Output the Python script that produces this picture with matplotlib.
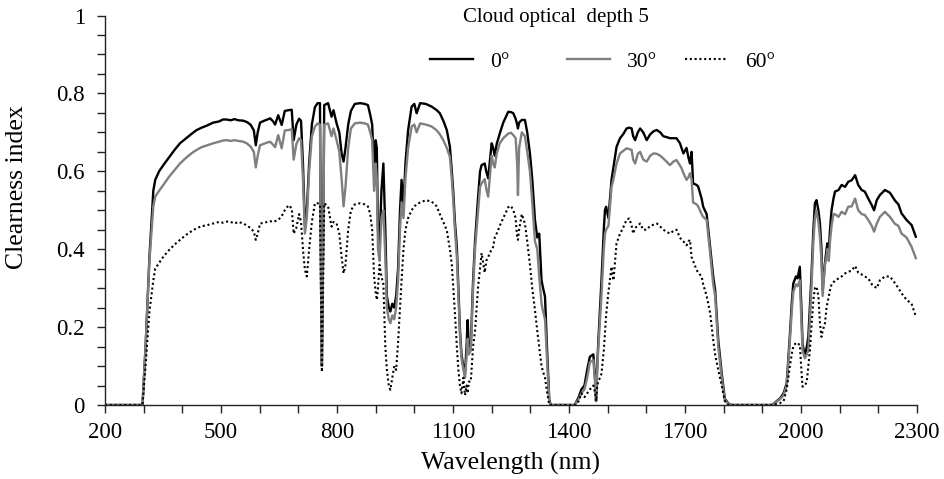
import matplotlib
matplotlib.use("Agg")
import matplotlib.pyplot as plt
from matplotlib.legend import Legend
from matplotlib.ticker import FixedLocator, MultipleLocator
import numpy as np

plt.rcParams["font.family"] = ["Liberation Serif", "DejaVu Serif"]

# Wavelength grid (nm) shared by the three solar zenith angles
wavelength = [
    200, 290, 297, 305, 315, 325, 330, 340, 351, 365, 380, 394, 410, 425, 437, 450,
    465, 480, 495, 505, 515, 525, 535, 545, 558, 568, 577, 585, 590, 595, 601, 612,
    620, 627, 635, 640, 648, 657, 665, 675, 683, 688, 695, 702, 707, 712, 717, 722,
    728, 735, 743, 750, 756, 759, 761, 764, 767, 777, 786, 791, 799, 806, 812, 817,
    822, 829, 836, 846, 860, 872, 880, 886, 891, 896, 900, 903, 906, 910, 915, 920,
    925, 929, 934, 938, 943, 948, 953, 958, 963, 967, 972, 977, 984, 993, 1000, 1006,
    1015, 1030, 1045, 1058, 1066, 1075, 1084, 1092, 1097, 1101, 1105, 1110, 1114, 1118, 1122, 1127,
    1131, 1135, 1138, 1141, 1146, 1152, 1157, 1165, 1170, 1174, 1182, 1186, 1191, 1200, 1204, 1208,
    1213, 1221, 1230, 1243, 1250, 1256, 1262, 1266, 1268, 1271, 1278, 1286, 1292, 1299, 1305, 1312,
    1318, 1323, 1329, 1333, 1338, 1343, 1349, 1353, 1415, 1425, 1432, 1440, 1447, 1454, 1463, 1468,
    1470, 1473, 1476, 1484, 1490, 1493, 1496, 1502, 1510, 1515, 1523, 1532, 1540, 1549, 1556, 1562,
    1566, 1571, 1578, 1584, 1592, 1601, 1610, 1619, 1627, 1636, 1644, 1652, 1661, 1670, 1678, 1687,
    1691, 1696, 1704, 1709, 1713, 1717, 1721, 1730, 1734, 1743, 1747, 1756, 1765, 1773, 1778, 1786,
    1795, 1803, 1812, 1820, 1925, 1946, 1955, 1963, 1971, 1976, 1980, 1987, 1991, 1997, 2001, 2004,
    2010, 2015, 2019, 2023, 2027, 2032, 2036, 2040, 2045, 2049, 2053, 2056, 2062, 2066, 2068, 2072,
    2075, 2079, 2084, 2088, 2097, 2105, 2114, 2122, 2131, 2140, 2148, 2157, 2165, 2174, 2183, 2189,
    2196, 2204, 2217, 2230, 2243, 2252, 2260, 2273, 2286, 2297,
]

# Clearness index, solar zenith angle 0 degrees
kt_0 = [
    0, 0, 0, 0.15, 0.38, 0.55, 0.578, 0.60, 0.616, 0.635, 0.655, 0.672, 0.685, 0.697, 0.706, 0.712,
    0.718, 0.725, 0.728, 0.733, 0.733, 0.731, 0.734, 0.731, 0.730, 0.726, 0.719, 0.705, 0.667, 0.700, 0.725, 0.730,
    0.733, 0.736, 0.728, 0.720, 0.744, 0.719, 0.755, 0.757, 0.758, 0.68, 0.72, 0.735, 0.730, 0.62, 0.46, 0.50,
    0.62, 0.72, 0.765, 0.775, 0.775, 0.30, 0.10, 0.40, 0.77, 0.775, 0.74, 0.757, 0.723, 0.70, 0.646, 0.625,
    0.66, 0.72, 0.755, 0.773, 0.775, 0.773, 0.770, 0.745, 0.72, 0.60, 0.68, 0.66, 0.45, 0.41, 0.55, 0.62,
    0.45, 0.28, 0.25, 0.24, 0.26, 0.25, 0.28, 0.35, 0.50, 0.578, 0.51, 0.62, 0.706, 0.766, 0.773, 0.749,
    0.775, 0.773, 0.766, 0.757, 0.749, 0.73, 0.706, 0.663, 0.60, 0.543, 0.47, 0.406, 0.30, 0.193, 0.13, 0.098,
    0.08, 0.15, 0.218, 0.14, 0.15, 0.32, 0.42, 0.535, 0.60, 0.616, 0.62, 0.60, 0.582, 0.672, 0.66, 0.64,
    0.67, 0.697, 0.725, 0.753, 0.752, 0.749, 0.735, 0.72, 0.71, 0.725, 0.732, 0.732, 0.70, 0.646, 0.58, 0.475,
    0.43, 0.44, 0.32, 0.30, 0.278, 0.15, 0.013, 0, 0, 0.02, 0.04, 0.05, 0.09, 0.124, 0.13, 0.06,
    0.01, 0.10, 0.167, 0.32, 0.45, 0.50, 0.509, 0.48, 0.578, 0.61, 0.663, 0.685, 0.695, 0.710, 0.712, 0.71,
    0.69, 0.680, 0.70, 0.71, 0.70, 0.68, 0.695, 0.703, 0.706, 0.70, 0.69, 0.688, 0.685, 0.685, 0.685, 0.672,
    0.66, 0.646, 0.66, 0.635, 0.62, 0.65, 0.569, 0.565, 0.561, 0.53, 0.509, 0.49, 0.406, 0.33, 0.295, 0.167,
    0.081, 0.016, 0.004, 0, 0, 0.017, 0.03, 0.056, 0.175, 0.26, 0.312, 0.33, 0.325, 0.355, 0.25, 0.158,
    0.124, 0.15, 0.175, 0.25, 0.33, 0.45, 0.518, 0.526, 0.50, 0.466, 0.40, 0.295, 0.364, 0.40, 0.415, 0.40,
    0.45, 0.50, 0.53, 0.548, 0.552, 0.565, 0.56, 0.573, 0.577, 0.59, 0.565, 0.552, 0.548, 0.53, 0.513, 0.50,
    0.526, 0.539, 0.552, 0.545, 0.525, 0.515, 0.492, 0.475, 0.462, 0.432,
]

# Clearness index, solar zenith angle 30 degrees
kt_30 = [
    0, 0, 0, 0.15, 0.37, 0.51, 0.535, 0.55, 0.565, 0.585, 0.603, 0.620, 0.635, 0.647, 0.655, 0.662,
    0.667, 0.672, 0.676, 0.679, 0.680, 0.678, 0.680, 0.678, 0.676, 0.671, 0.663, 0.650, 0.610, 0.640, 0.667, 0.671,
    0.674, 0.676, 0.668, 0.662, 0.693, 0.659, 0.705, 0.706, 0.708, 0.63, 0.67, 0.685, 0.680, 0.58, 0.44, 0.48,
    0.60, 0.69, 0.715, 0.723, 0.72, 0.28, 0.10, 0.38, 0.72, 0.723, 0.69, 0.71, 0.68, 0.65, 0.58, 0.51,
    0.56, 0.66, 0.71, 0.723, 0.725, 0.723, 0.72, 0.70, 0.68, 0.55, 0.62, 0.58, 0.40, 0.37, 0.48, 0.50,
    0.38, 0.25, 0.22, 0.21, 0.23, 0.22, 0.25, 0.32, 0.45, 0.52, 0.48, 0.58, 0.66, 0.715, 0.72, 0.70,
    0.723, 0.72, 0.715, 0.705, 0.695, 0.68, 0.66, 0.637, 0.58, 0.52, 0.45, 0.38, 0.28, 0.18, 0.12, 0.09,
    0.07, 0.12, 0.17, 0.13, 0.14, 0.30, 0.40, 0.50, 0.56, 0.569, 0.58, 0.555, 0.535, 0.64, 0.62, 0.61,
    0.645, 0.672, 0.685, 0.697, 0.699, 0.693, 0.685, 0.62, 0.539, 0.66, 0.70, 0.69, 0.65, 0.60, 0.52, 0.42,
    0.40, 0.33, 0.26, 0.24, 0.22, 0.12, 0.01, 0, 0, 0.015, 0.03, 0.04, 0.07, 0.11, 0.115, 0.05,
    0.01, 0.09, 0.15, 0.28, 0.40, 0.44, 0.45, 0.46, 0.56, 0.58, 0.62, 0.646, 0.652, 0.659, 0.657, 0.655,
    0.63, 0.62, 0.645, 0.65, 0.63, 0.625, 0.64, 0.646, 0.645, 0.64, 0.633, 0.625, 0.616, 0.625, 0.629, 0.615,
    0.608, 0.595, 0.578, 0.585, 0.595, 0.58, 0.52, 0.515, 0.51, 0.49, 0.483, 0.475, 0.39, 0.31, 0.28, 0.15,
    0.07, 0.012, 0.003, 0, 0, 0.015, 0.025, 0.05, 0.16, 0.24, 0.29, 0.31, 0.305, 0.32, 0.22, 0.14,
    0.12, 0.13, 0.14, 0.22, 0.30, 0.42, 0.48, 0.50, 0.47, 0.43, 0.37, 0.28, 0.36, 0.38, 0.40, 0.37,
    0.42, 0.46, 0.49, 0.49, 0.483, 0.496, 0.49, 0.509, 0.51, 0.530, 0.50, 0.49, 0.488, 0.475, 0.46, 0.445,
    0.466, 0.483, 0.496, 0.483, 0.465, 0.46, 0.44, 0.43, 0.406, 0.377,
]

# Clearness index, solar zenith angle 60 degrees
kt_60 = [
    0, 0, 0, 0.10, 0.24, 0.32, 0.35, 0.365, 0.381, 0.397, 0.412, 0.424, 0.437, 0.447, 0.454, 0.459,
    0.462, 0.466, 0.470, 0.468, 0.471, 0.470, 0.466, 0.470, 0.466, 0.460, 0.454, 0.445, 0.424, 0.440, 0.466, 0.468,
    0.470, 0.472, 0.470, 0.472, 0.475, 0.485, 0.50, 0.513, 0.505, 0.44, 0.455, 0.49, 0.47, 0.40, 0.347, 0.33,
    0.40, 0.47, 0.518, 0.518, 0.515, 0.25, 0.085, 0.30, 0.518, 0.51, 0.458, 0.47, 0.466, 0.44, 0.38, 0.338,
    0.36, 0.45, 0.50, 0.515, 0.518, 0.515, 0.51, 0.49, 0.45, 0.33, 0.29, 0.27, 0.30, 0.36, 0.33, 0.31,
    0.15, 0.09, 0.05, 0.039, 0.07, 0.10, 0.09, 0.16, 0.25, 0.32, 0.40, 0.449, 0.48, 0.50, 0.51, 0.515,
    0.52, 0.526, 0.522, 0.51, 0.49, 0.47, 0.449, 0.40, 0.36, 0.30, 0.236, 0.15, 0.09, 0.05, 0.03, 0.07,
    0.025, 0.05, 0.03, 0.06, 0.06, 0.15, 0.19, 0.304, 0.35, 0.39, 0.34, 0.37, 0.38, 0.40, 0.406, 0.43,
    0.44, 0.46, 0.48, 0.508, 0.511, 0.50, 0.48, 0.43, 0.424, 0.45, 0.49, 0.466, 0.42, 0.36, 0.30, 0.244,
    0.19, 0.15, 0.10, 0.085, 0.07, 0.035, 0.0, 0, 0, 0.01, 0.03, 0.02, 0.03, 0.04, 0.05, 0.03,
    0.01, 0.05, 0.06, 0.08, 0.14, 0.185, 0.23, 0.29, 0.355, 0.32, 0.415, 0.44, 0.455, 0.476, 0.479, 0.46,
    0.44, 0.455, 0.46, 0.466, 0.45, 0.45, 0.46, 0.463, 0.466, 0.458, 0.45, 0.445, 0.44, 0.447, 0.45, 0.43,
    0.424, 0.42, 0.41, 0.42, 0.424, 0.38, 0.37, 0.347, 0.34, 0.33, 0.31, 0.28, 0.236, 0.167, 0.13, 0.09,
    0.05, 0.01, 0.0, 0, 0, 0.005, 0.01, 0.04, 0.098, 0.13, 0.15, 0.16, 0.157, 0.155, 0.09, 0.047,
    0.05, 0.06, 0.10, 0.14, 0.20, 0.27, 0.30, 0.304, 0.28, 0.21, 0.175, 0.19, 0.21, 0.25, 0.26, 0.28,
    0.295, 0.31, 0.315, 0.32, 0.325, 0.33, 0.338, 0.342, 0.345, 0.357, 0.34, 0.335, 0.33, 0.325, 0.31, 0.305,
    0.30, 0.32, 0.33, 0.33, 0.313, 0.30, 0.287, 0.27, 0.26, 0.227,
]

angle_labels = ["0°", "30°", "60°"]
x_ticks = [200, 500, 800, 1100, 1400, 1700, 2000, 2300]
y_ticks = [0, 0.2, 0.4, 0.6, 0.8, 1.0]
y_tick_labels = ["0", "0.2", "0.4", "0.6", "0.8", "1"]

fig = plt.figure(figsize=(9.44, 4.79), dpi=100)
ax = fig.add_axes([0.1112, 0.1545, 0.8602, 0.8131])

l0, = ax.plot(wavelength, kt_0, color="black", lw=1.7, solid_joinstyle="round")
l30, = ax.plot(wavelength, kt_30, color="#7f7f7f", lw=1.7, solid_joinstyle="round")
l60, = ax.plot(wavelength, kt_60, color="black", lw=1.5, linestyle=(0, (1, 1.3)))

ax.set_xlim(200, 2300)
ax.set_ylim(0, 1)

for side in ("top", "right"):
    ax.spines[side].set_visible(False)
for side in ("left", "bottom"):
    ax.spines[side].set_linewidth(1.0)
    ax.spines[side].set_color("#222222")

ax.xaxis.set_major_locator(FixedLocator(x_ticks))
ax.xaxis.set_minor_locator(MultipleLocator(100))
ax.set_yticks(y_ticks)
ax.set_yticklabels(y_tick_labels)
ax.yaxis.set_minor_locator(MultipleLocator(0.05))

ax.tick_params(axis="both", which="both", direction="out", length=5.5, width=1.0,
               color="#222222", labelsize=16.5)
ax.tick_params(axis="y", which="major", pad=9)
ax.tick_params(axis="x", which="major", pad=7)

ax.set_xlabel("Wavelength (nm)", fontsize=18.5)
ax.set_ylabel("Clearness index", fontsize=18.5)
ax.yaxis.set_label_coords(-0.095, 0.56)
ax.xaxis.set_label_coords(0.5, -0.12)

ax.text(0.555, 0.994, "Cloud optical  depth 5", transform=ax.transAxes,
        ha="center", va="center", fontsize=15)

# One single-entry legend per angle, spaced along the top of the plot
legend_x = [0.400, 0.569, 0.7143]
for handle, label, x in zip([l0, l30, l60], angle_labels, legend_x):
    leg = Legend(ax, [handle], [label], loc="center left", bbox_to_anchor=(x, 0.881),
                 frameon=False, fontsize=15.5, handlelength=2.0, handletextpad=0.8,
                 borderpad=0, borderaxespad=0)
    ax.add_artist(leg)

fig.savefig("out.png", dpi=100)
